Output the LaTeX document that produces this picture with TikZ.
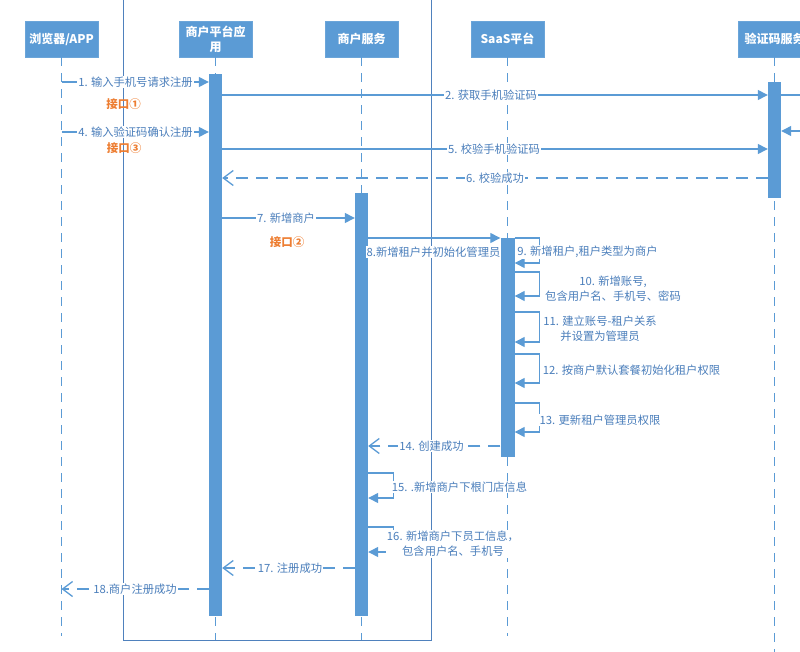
\documentclass[tikz,border=0pt]{standalone}
\usepackage{fontspec}
\setmainfont{Noto Sans CJK SC}
\usetikzlibrary{arrows.meta}
\definecolor{mblue}{HTML}{5B9BD5}
\definecolor{tblue}{HTML}{4A7EBB}
\definecolor{forange}{HTML}{ED7D31}
\definecolor{fblue}{HTML}{4F81BD}
\begin{document}
\begin{tikzpicture}[x=1pt,y=-1pt,
  hbox/.style={draw=mblue!90!white, line width=0.6pt, fill=mblue, text=white,
    font=\fontsize{12}{15}\selectfont\bfseries, minimum width=73, minimum height=36,
    inner sep=1pt, align=center},
  actbar/.style={fill=mblue, draw=none, minimum width=13, minimum height=#1, inner sep=0pt},
  lifeline/.style={mblue, line width=1.3pt, dash pattern=on 9pt off 7pt},
  msg/.style={mblue, line width=1.3pt, -{Triangle[length=10pt,width=10pt]}},
  plain/.style={mblue, line width=1.3pt},
  ret/.style={mblue, line width=1.3pt, dash pattern=on 12pt off 8pt,
    -{Straight Barb[length=10pt,width=15pt]}},
  lbl/.style={fill=white, text=tblue, font=\fontsize{11.3}{15}\selectfont, inner sep=1pt, align=center},
  iface/.style={text=forange, font=\fontsize{11.5}{13}\selectfont\bfseries, inner sep=0pt}
]
\useasboundingbox (0,0) rectangle (800,652);
\clip (0,0) rectangle (800,652);

% frame
\coordinate (fTL) at (123,-10);
\coordinate (fBR) at (431,640);
\draw[fblue, line width=1pt] (fTL) rectangle (fBR);

% headers
\node[hbox] (b) at (61.5,39) {浏览器/APP};
\node[hbox] (p) at (215.5,39) {商户平台应\\用};
\node[hbox] (m) at (361.5,39) {商户服务};
\node[hbox] (s) at (507.5,39) {SaaS平台};
\node[hbox] (v) at (774.5,39) {验证码服务};

% lifeline ends
\coordinate (bEnd) at (61.5,636);
\coordinate (pEnd) at (215.5,640);
\coordinate (mEnd) at (361.5,640);
\coordinate (sEnd) at (507.5,636);
\coordinate (vEnd) at (774.5,660);
\draw[lifeline] (b.south) -- (bEnd);
\draw[lifeline] (p.south) -- (pEnd);
\draw[lifeline] (m.south) -- (mEnd);
\draw[lifeline] (s.south) -- (sEnd);
\draw[lifeline] (v.south) -- (vEnd);

% activation bars
\node[actbar=542] (pbar) at (215.5,345) {};
\node[actbar=423] (mbar) at (361.5,404.5) {};
\node[actbar=219, minimum width=14] (sbar) at (507.5,347.5) {};
\node[actbar=116] (vbar) at (774.5,140) {};

% message y levels
\coordinate (y1) at (0,82);
\coordinate (y2) at (0,95);
\coordinate (y3) at (0,131);
\coordinate (y4) at (0,132);
\coordinate (y5) at (0,149);
\coordinate (y6) at (0,178);
\coordinate (y7) at (0,218);
\coordinate (y8) at (0,238);
\coordinate (y9a) at (0,238);
\coordinate (y9b) at (0,263);
\coordinate (y10a) at (0,272);
\coordinate (y10b) at (0,296);
\coordinate (y11a) at (0,312);
\coordinate (y11b) at (0,342);
\coordinate (y12a) at (0,354);
\coordinate (y12b) at (0,383);
\coordinate (y13a) at (0,403);
\coordinate (y13b) at (0,432);
\coordinate (y14) at (0,446);
\coordinate (y15a) at (0,473);
\coordinate (y15b) at (0,498);
\coordinate (y16a) at (0,527);
\coordinate (y16b) at (0,552);
\coordinate (y17) at (0,568);
\coordinate (y18) at (0,589);
\coordinate (offA) at (812,95);
\coordinate (offB) at (812,131);

% messages
\draw[msg] (b.south |- y1) -- (pbar.west |- y1);
\draw[msg] (pbar.east |- y2) -- (vbar.west |- y2);
\draw[plain] (vbar.east |- y2) -- (offA);
\draw[msg] (offB) -- (vbar.east |- y3);
\draw[msg] (b.south |- y4) -- (pbar.west |- y4);
\draw[msg] (pbar.east |- y5) -- (vbar.west |- y5);
\draw[ret] (vbar.west |- y6) -- (pbar.east |- y6);
\draw[msg] (pbar.east |- y7) -- (mbar.west |- y7);
\draw[msg] (mbar.east |- y8) -- (sbar.west |- y8);
\draw[msg] (sbar.east |- y9a) -- ++(25,0) |- (sbar.east |- y9b);
\draw[msg] (sbar.east |- y10a) -- ++(25,0) |- (sbar.east |- y10b);
\draw[msg] (sbar.east |- y11a) -- ++(25,0) |- (sbar.east |- y11b);
\draw[msg] (sbar.east |- y12a) -- ++(25,0) |- (sbar.east |- y12b);
\draw[msg] (sbar.east |- y13a) -- ++(25,0) |- (sbar.east |- y13b);
\draw[ret] (sbar.west |- y14) -- (mbar.east |- y14);
\draw[msg] (mbar.east |- y15a) -- ++(25,0) |- (mbar.east |- y15b);
\draw[msg] (mbar.east |- y16a) -- ++(25,0) |- (mbar.east |- y16b);
\draw[ret] (mbar.west |- y17) -- (pbar.east |- y17);
\draw[ret] (pbar.west |- y18) -- (b.south |- y18);

% labels
\node[lbl] (l1) at (135.5,82) {1. 输入手机号请求注册};
\node[lbl] (l2) at (491,95) {2. 获取手机验证码};
\node[lbl] (l4) at (135.5,132) {4. 输入验证码确认注册};
\node[lbl] (l5) at (494,149) {5. 校验手机验证码};
\node[lbl] (l6) at (495,178) {6. 校验成功};
\node[lbl] (l7) at (286,218) {7. 新增商户};
\node[lbl] (l8) at (433.5,252) {8.新增租户并初始化管理员};
\node[lbl] (l9) at (587.5,252) {9. 新增租户,租户类型为商户};
\node[lbl] (l10) at (613,288.5) {10. 新增账号,\\包含用户名、手机号、密码};
\node[lbl] (l11) at (600,329) {11. 建立账号-租户关系\\并设置为管理员};
\node[lbl] (l12) at (631.5,370) {12. 按商户默认套餐初始化租户权限};
\node[lbl] (l13) at (600,420) {13. 更新租户管理员权限};
\node[lbl] (l14) at (431.5,446) {14. 创建成功};
\node[lbl] (l15) at (459.5,487) {15. .新增商户下根门店信息};
\node[lbl] (l16) at (453,544) {16. 新增商户下员工信息，\\包含用户名、手机号};
\node[lbl] (l17) at (290,568) {17. 注册成功};
\node[lbl] (l18) at (135,589) {18.商户注册成功};

\node[iface] (i1) at (123.5,104.5) {接口①};
\node[iface] (i3) at (124,148) {接口③};
\node[iface] (i2) at (287,242) {接口②};
\end{tikzpicture}
\end{document}
